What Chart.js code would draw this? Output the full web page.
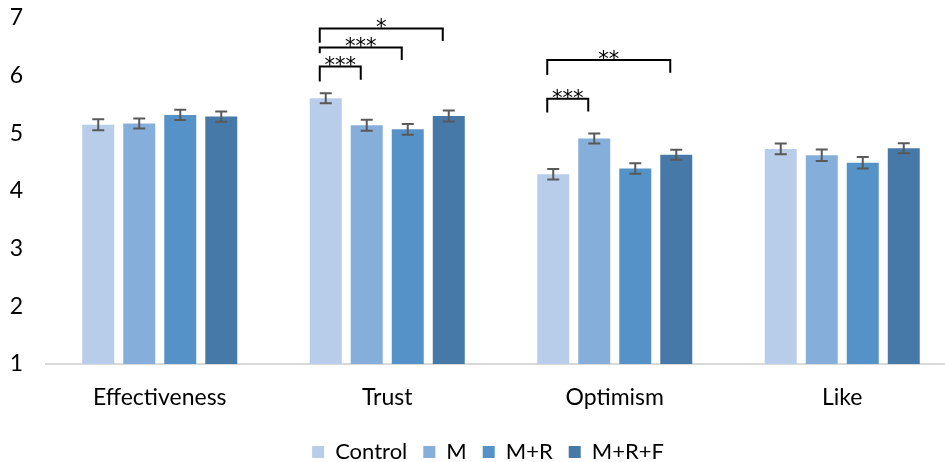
<!DOCTYPE html>
<html><head><meta charset="utf-8">
<script src="https://cdn.jsdelivr.net/npm/chart.js@4.4.0/dist/chart.umd.min.js"></script>
<style>
html,body{margin:0;padding:0;overflow:hidden;background:#fff;width:945px;height:462px}
#wrap{position:absolute;left:0;top:0;width:960px;height:462px}
</style>
</head><body><div id="wrap"><canvas id="c" width="960" height="462"></canvas></div>
<script>
// ---- data ----
const categories = ['Effectiveness', 'Trust', 'Optimism', 'Like'];
const seriesNames = ['Control', 'M', 'M+R', 'M+R+F'];
const controlMeans = [5.15, 5.61, 4.29, 4.73];
const mMeans = [5.17, 5.14, 4.91, 4.62];
const mrMeans = [5.32, 5.07, 4.39, 4.49];
const mrfMeans = [5.29, 5.30, 4.63, 4.74];
const controlErr = [0.095, 0.087, 0.090, 0.093];
const mErr = [0.087, 0.095, 0.087, 0.098];
const mrErr = [0.090, 0.093, 0.093, 0.098];
const mrfErr = [0.090, 0.095, 0.087, 0.087];
const yTicks = [1, 2, 3, 4, 5, 6, 7];
// significance brackets
const bracketCategory = [1, 1, 1, 2, 2];
const bracketFromSeries = [0, 0, 0, 0, 0];
const bracketToSeries = [1, 2, 3, 1, 3];
const bracketTop = [6.16, 6.49, 6.82, 5.60, 6.27];
const bracketLeftEnd = [5.90, 6.39, 6.57, 5.36, 6.01];
const bracketRightEnd = [5.93, 6.27, 6.60, 5.38, 6.05];
const bracketLabels = ['***', '***', '*', '***', '**'];

// ---- styles ----
const FONT = 'Lato';
const colors = ['#B8CDE9', '#86AEDB', '#5592C7', '#4779A8'];
const means = [controlMeans, mMeans, mrMeans, mrfMeans];
const errs = [controlErr, mErr, mrErr, mrfErr];

const errorBars = {
  id: 'errorBars',
  afterDatasetsDraw(chart) {
    const ctx = chart.ctx, y = chart.scales.y;
    ctx.save();
    ctx.strokeStyle = '#595959';
    ctx.lineWidth = 2;
    chart.data.datasets.forEach((ds, i) => {
      const meta = chart.getDatasetMeta(i);
      meta.data.forEach((bar, j) => {
        const v = ds.data[j], e = errs[i][j];
        const yt = y.getPixelForValue(v + e), yb = y.getPixelForValue(v - e);
        const x = bar.x, cw = 6;
        ctx.beginPath();
        ctx.moveTo(x, yt); ctx.lineTo(x, yb);
        ctx.moveTo(x - cw, yt); ctx.lineTo(x + cw, yt);
        ctx.moveTo(x - cw, yb); ctx.lineTo(x + cw, yb);
        ctx.stroke();
      });
    });
    ctx.restore();
  }
};

const brackets = {
  id: 'brackets',
  afterDatasetsDraw(chart) {
    const ctx = chart.ctx, y = chart.scales.y;
    ctx.save();
    ctx.strokeStyle = '#000';
    ctx.lineWidth = 2;
    ctx.fillStyle = '#000';
    ctx.font = '21px "DejaVu Sans"';
    ctx.textAlign = 'center';
    ctx.textBaseline = 'alphabetic';
    bracketLabels.forEach((lab, k) => {
      const c = bracketCategory[k];
      const xl = chart.getDatasetMeta(bracketFromSeries[k]).data[c].x - 6;
      const xr = chart.getDatasetMeta(bracketToSeries[k]).data[c].x - 6;
      const yt = y.getPixelForValue(bracketTop[k]);
      ctx.beginPath();
      ctx.moveTo(xl, y.getPixelForValue(bracketLeftEnd[k]));
      ctx.lineTo(xl, yt);
      ctx.lineTo(xr, yt);
      ctx.lineTo(xr, y.getPixelForValue(bracketRightEnd[k]));
      ctx.stroke();
      ctx.fillText(lab, (xl + xr) / 2, yt + 6);
    });
    ctx.restore();
  }
};

const legendShift = {
  id: 'legendShift',
  afterLayout(chart) {
    if (chart.legend) { chart.legend.left += 5; chart.legend.right += 5; }
  }
};

new Chart(document.getElementById('c'), {
  type: 'bar',
  data: {
    labels: categories,
    datasets: seriesNames.map((n, i) => ({
      label: n,
      data: means[i],
      backgroundColor: colors[i],
      borderWidth: 0,
      categoryPercentage: 0.721,
      barPercentage: 0.78
    }))
  },
  options: {
    responsive: false,
    animation: false,
    devicePixelRatio: 1,
    layout: { padding: { left: 10, right: 4, top: 18, bottom: 2 } },
    plugins: {
      legend: {
        position: 'bottom',
        maxHeight: 35,
        labels: { boxWidth: 12, boxHeight: 12, padding: 16, color: '#000', font: { family: FONT, size: 22 } }
      },
      tooltip: { enabled: false }
    },
    scales: {
      x: {
        grid: { display: false, drawTicks: false },
        border: { display: true, color: '#D9D9D9', width: 2 },
        ticks: { color: '#000', font: { family: FONT, size: 23 }, padding: 20 },
        afterFit(scale) { scale.height = 61; }
      },
      y: {
        min: yTicks[0], max: yTicks[yTicks.length - 1],
        grid: { display: false, drawTicks: true, tickLength: 23 },
        border: { display: false },
        afterBuildTicks(scale) { scale.ticks = yTicks.map(v => ({ value: v })); },
        ticks: { color: '#000', font: { family: FONT, size: 23 }, padding: 0 },
        afterFit(scale) { scale.width = 36; }
      }
    }
  },
  plugins: [errorBars, brackets, legendShift]
});
</script>
</body></html>
